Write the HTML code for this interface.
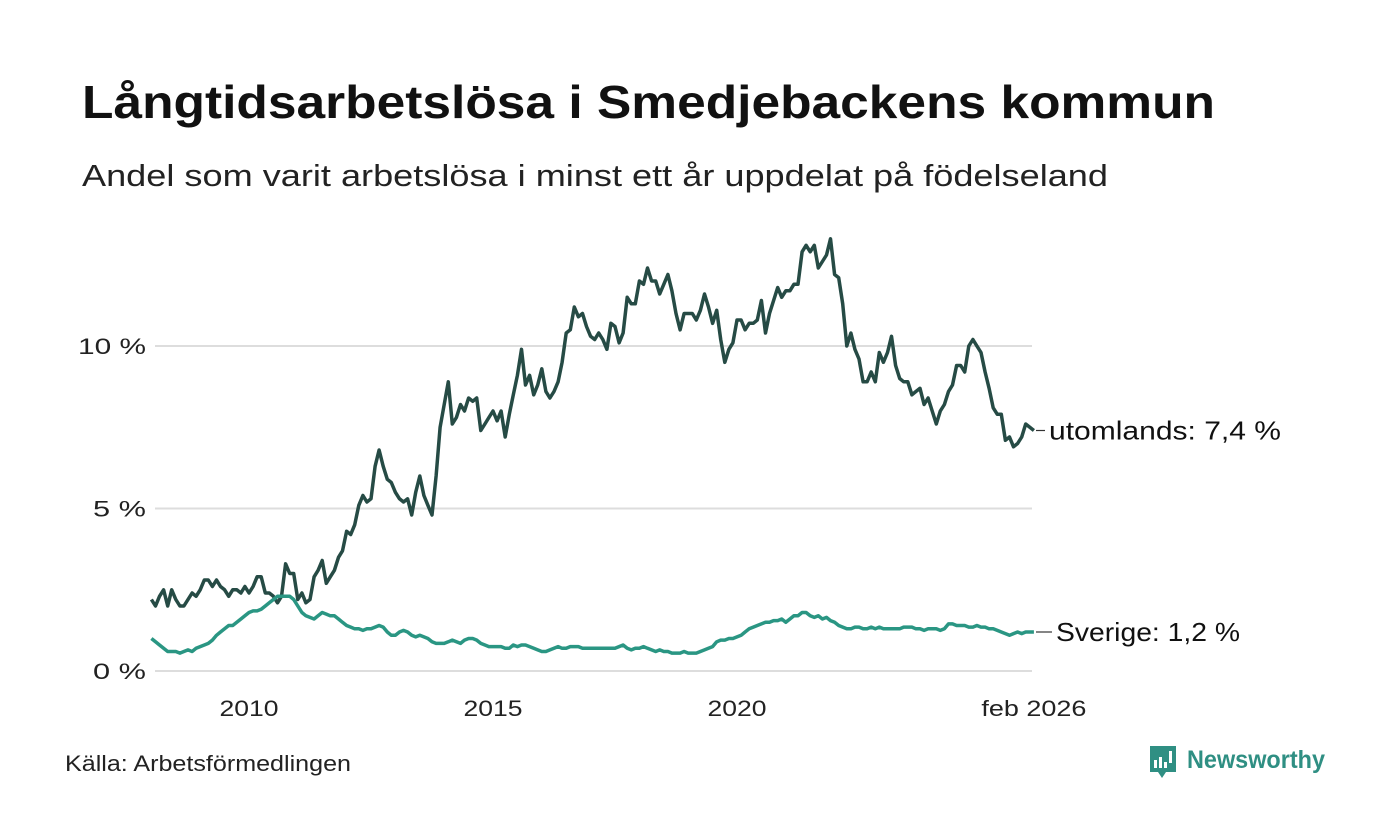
<!DOCTYPE html>
<html><head><meta charset="utf-8"><style>
body{margin:0;background:#fff;}
svg{display:block;font-family:"Liberation Sans",sans-serif;}
</style></head><body>
<svg id="chart" width="1400" height="840" viewBox="0 0 1400 840">
<text x="82" y="118" font-size="46" font-weight="bold" fill="#111" textLength="1133" lengthAdjust="spacingAndGlyphs">Långtidsarbetslösa i Smedjebackens kommun</text>
<text x="82" y="186" font-size="31" fill="#222" textLength="1026" lengthAdjust="spacingAndGlyphs">Andel som varit arbetslösa i minst ett år uppdelat på födelseland</text>
<g id="grid"></g>
<g id="xaxis"></g>
<g id="series"></g>
<g id="labels"></g>
<text x="65" y="771" font-size="22" fill="#222" textLength="286" lengthAdjust="spacingAndGlyphs">Källa: Arbetsförmedlingen</text>
<g>
<path d="M1150 746 h26 v26 h-10 l-4 6 l-4 -6 h-8 z" fill="#2f8f83"/>
<rect x="1154" y="760" width="3" height="8" fill="#fff"/><rect x="1159" y="757" width="3" height="11" fill="#fff"/><rect x="1164" y="762" width="3" height="6" fill="#fff"/><rect x="1169" y="751" width="3" height="12" fill="#fff"/>
<text x="1187" y="768" font-size="25" font-weight="bold" fill="#2f8f83" textLength="138" lengthAdjust="spacingAndGlyphs">Newsworthy</text>
</g>
</svg>
<script>
const yTicks = [0, 5, 10];
const yTickLabels = ["0 %", "5 %", "10 %"];
const xTicks = [2010, 2015, 2020];
const xTickLabels = ["2010", "2015", "2020"];
const startYear = 2008, startMonth = 0;
const utomlands = [
2.2,2.0,2.3,2.5,2.0,2.5,2.2,2.0,2.0,2.2,2.4,2.3,
2.5,2.8,2.8,2.6,2.8,2.6,2.5,2.3,2.5,2.5,2.4,2.6,
2.4,2.6,2.9,2.9,2.4,2.4,2.3,2.1,2.3,3.3,3.0,3.0,
2.2,2.4,2.1,2.2,2.9,3.1,3.4,2.7,2.9,3.1,3.5,3.7,
4.3,4.2,4.5,5.1,5.4,5.2,5.3,6.3,6.8,6.3,5.9,5.8,
5.5,5.3,5.2,5.3,4.8,5.5,6.0,5.4,5.1,4.8,6.0,7.5,
8.2,8.9,7.6,7.8,8.2,8.0,8.4,8.3,8.4,7.4,7.6,7.8,
8.0,7.7,8.0,7.2,7.9,8.5,9.1,9.9,8.8,9.1,8.5,8.8,
9.3,8.6,8.4,8.6,8.9,9.5,10.4,10.5,11.2,10.9,11.0,10.6,
10.3,10.2,10.4,10.2,9.9,10.7,10.6,10.1,10.4,11.5,11.3,11.3,
12.0,11.9,12.4,12.0,12.0,11.6,11.9,12.2,11.7,11.0,10.5,11.0,
11.0,11.0,10.8,11.1,11.6,11.2,10.7,11.1,10.2,9.5,9.9,10.1,
10.8,10.8,10.5,10.7,10.7,10.8,11.4,10.4,11.0,11.4,11.8,11.5,
11.7,11.7,11.9,11.9,12.9,13.1,12.9,13.1,12.4,12.6,12.8,13.3,
12.2,12.1,11.3,10.0,10.4,9.9,9.6,8.9,8.9,9.2,8.9,9.8,
9.5,9.8,10.3,9.4,9.0,8.9,8.9,8.5,8.6,8.7,8.2,8.4,
8.0,7.6,8.0,8.2,8.6,8.8,9.4,9.4,9.2,10.0,10.2,10.0,
9.8,9.2,8.7,8.1,7.9,7.9,7.1,7.2,6.9,7.0,7.2,7.6,
7.5,7.4];
const sverige = [
1.0,0.9,0.8,0.7,0.6,0.6,0.6,0.55,0.6,0.65,0.6,0.7,
0.75,0.8,0.85,0.95,1.1,1.2,1.3,1.4,1.4,1.5,1.6,1.7,
1.8,1.85,1.85,1.9,2.0,2.1,2.2,2.3,2.3,2.3,2.3,2.2,
2.0,1.8,1.7,1.65,1.6,1.7,1.8,1.75,1.7,1.7,1.6,1.5,
1.4,1.35,1.3,1.3,1.25,1.3,1.3,1.35,1.4,1.35,1.2,1.1,
1.1,1.2,1.25,1.2,1.1,1.05,1.1,1.05,1.0,0.9,0.85,0.85,
0.85,0.9,0.95,0.9,0.85,0.95,1.0,1.0,0.95,0.85,0.8,0.75,
0.75,0.75,0.75,0.7,0.7,0.8,0.75,0.8,0.8,0.75,0.7,0.65,
0.6,0.6,0.65,0.7,0.75,0.7,0.7,0.75,0.75,0.75,0.7,0.7,
0.7,0.7,0.7,0.7,0.7,0.7,0.7,0.75,0.8,0.7,0.65,0.7,
0.7,0.75,0.7,0.65,0.6,0.65,0.6,0.6,0.55,0.55,0.55,0.6,
0.55,0.55,0.55,0.6,0.65,0.7,0.75,0.9,0.95,0.95,1.0,1.0,
1.05,1.1,1.2,1.3,1.35,1.4,1.45,1.5,1.5,1.55,1.55,1.6,
1.5,1.6,1.7,1.7,1.8,1.8,1.7,1.65,1.7,1.6,1.65,1.55,
1.5,1.4,1.35,1.3,1.3,1.35,1.35,1.3,1.3,1.35,1.3,1.35,
1.3,1.3,1.3,1.3,1.3,1.35,1.35,1.35,1.3,1.3,1.25,1.3,
1.3,1.3,1.25,1.3,1.45,1.45,1.4,1.4,1.4,1.35,1.35,1.4,
1.35,1.35,1.3,1.3,1.25,1.2,1.15,1.1,1.15,1.2,1.15,1.2,
1.2,1.2];
const seriesNames = ["utomlands", "Sverige"];
const lastLabelText = ["utomlands: 7,4 %", "Sverige: 1,2 %"];

const NS = "http://www.w3.org/2000/svg";
const X0 = 155, X1 = 1032;
const pxPerYear = 48.8;
function xScale(t){ return 249 + (t - 2010) * pxPerYear; }
function yScale(v){ return 671 - v * 32.5; }
function mk(tag, attrs){ const e = document.createElementNS(NS, tag); for (const k in attrs) e.setAttribute(k, attrs[k]); return e; }

const grid = document.getElementById('grid');
yTicks.forEach((v, i) => {
  const l = mk('line', {x1: X0, x2: X1, y1: yScale(v), y2: yScale(v), stroke: '#dddddd', 'stroke-width': 2});
  
  
  grid.appendChild(l);
  const t = mk('text', {x: 146, y: yScale(v) + 8, 'font-size': 22, fill: '#222', 'text-anchor': 'end', textLength: yTickLabels[i].length * 15 + 8, lengthAdjust: 'spacingAndGlyphs'});
  t.textContent = yTickLabels[i];
  
  
  grid.appendChild(t);
});
const xa = document.getElementById('xaxis');
xTicks.forEach((v, i) => {
  const t = mk('text', {x: xScale(v), y: 716, 'font-size': 22, fill: '#222', 'text-anchor': 'middle', textLength: 59, lengthAdjust: 'spacingAndGlyphs'});
  t.textContent = xTickLabels[i];
  
  
  xa.appendChild(t);
});
const n = utomlands.length;
const lastT = startYear + (startMonth + n - 1) / 12;
const months = ["jan","feb","mar","apr","maj","jun","jul","aug","sep","okt","nov","dec"];
const lm = (startMonth + n - 1) % 12;
const lt = mk('text', {x: xScale(lastT), y: 716, 'font-size': 22, fill: '#222', 'text-anchor': 'middle', textLength: 105, lengthAdjust: 'spacingAndGlyphs'});
lt.textContent = months[lm] + " " + Math.floor(lastT + 1e-9);


xa.appendChild(lt);

const sg = document.getElementById('series');
const lg = document.getElementById('labels');
const colors = ["#264b45", "#2a9683"];
const labelLen = [232, 184];
const labelX = [1049, 1056];
[utomlands, sverige].forEach((arr, si) => {
  const pts = arr.map((v, i) => xScale(startYear + (startMonth + i) / 12).toFixed(1) + "," + yScale(v).toFixed(1)).join(" ");
  const pl = mk('polyline', {points: pts, fill: 'none', stroke: colors[si], 'stroke-width': 3.5, 'stroke-linejoin': 'round'});
  
  
  sg.appendChild(pl);
  const ly = yScale(arr[arr.length - 1]);
  const ll = mk('line', {x1: 1036, x2: labelX[si] - 4, y1: ly, y2: ly, stroke: '#333', 'stroke-width': 1.2});
  
  
  lg.appendChild(ll);
  const tx = mk('text', {x: labelX[si], y: ly + 9, 'font-size': 26, fill: '#111', textLength: labelLen[si], lengthAdjust: 'spacingAndGlyphs'});
  tx.textContent = lastLabelText[si];
  
  
  lg.appendChild(tx);
});
</script>
</body></html>
